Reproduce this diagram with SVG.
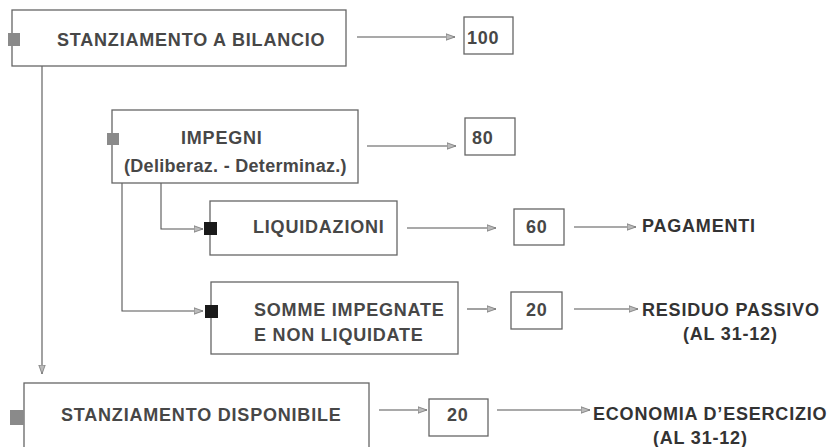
<svg xmlns="http://www.w3.org/2000/svg" width="828" height="447" viewBox="0 0 828 447">
<defs>
<style>
.box{fill:#fff;stroke:#666;stroke-width:1.3}
.vbox{fill:#fff;stroke:#666;stroke-width:1.3}
.t{font-family:"Liberation Sans",Arial,sans-serif;font-weight:bold;font-size:18px;letter-spacing:0.8px;fill:#474747}
.r{fill:#333}
.c{fill:none;stroke:#555;stroke-width:1.1}
.ca{fill:none;stroke:#555;stroke-width:1.1;marker-end:url(#ah)}
.mg{fill:#8a8a8a}
.mk{fill:#1a1a1a}
</style>
<marker id="ah" markerWidth="10" markerHeight="8" refX="9" refY="4" orient="auto" markerUnits="userSpaceOnUse">
<path d="M0,0.8 L9,4 L0,7.2 Z" fill="#bbb" stroke="#777" stroke-width="0.8"/>
</marker>
</defs>
<rect width="828" height="447" fill="#fff"/>

<g id="connectors">
<path class="ca" d="M357,37 H455"/>
<path class="ca" d="M42,66 V374"/>
<path class="ca" d="M367,146 H456"/>
<path class="ca" d="M161,183 V229 H203"/>
<path class="ca" d="M122,183 V311 H203"/>
<path class="ca" d="M407,228 H496"/>
<path class="ca" d="M574,227 H636"/>
<path class="ca" d="M467,309 H496"/>
<path class="ca" d="M574,309 H638"/>
<path class="ca" d="M379,410 H427"/>
<path class="ca" d="M497,410 H590"/>
</g>

<g id="n-stanziamento-bilancio">
<rect class="box" x="12" y="10" width="334" height="56"/>
<rect class="mg" x="8" y="33" width="12" height="13"/>
<text class="t" x="57" y="46">STANZIAMENTO A BILANCIO</text>
</g>

<g id="n-100">
<rect class="vbox" x="464" y="17" width="49" height="37"/>
<text class="t" x="467" y="44">100</text>
</g>

<g id="n-impegni">
<rect class="box" x="112" y="110" width="246" height="73"/>
<rect class="mg" x="107" y="133" width="12" height="12"/>
<text class="t" x="181" y="144">IMPEGNI</text>
<text class="t" x="124" y="172" style="letter-spacing:0.3px">(Deliberaz. - Determinaz.)</text>
</g>

<g id="n-80">
<rect class="vbox" x="465" y="118" width="50" height="37"/>
<text class="t" x="472" y="144">80</text>
</g>

<g id="n-liquidazioni">
<rect class="box" x="210" y="201" width="187" height="54"/>
<rect class="mk" x="204" y="222" width="13" height="13"/>
<text class="t" x="253" y="233">LIQUIDAZIONI</text>
</g>

<g id="n-60">
<rect class="vbox" x="514" y="209" width="50" height="36"/>
<text class="t" x="526" y="233">60</text>
</g>

<g id="n-pagamenti">
<text class="t r" x="642" y="232">PAGAMENTI</text>
</g>

<g id="n-somme">
<rect class="box" x="211" y="282" width="247" height="72"/>
<rect class="mk" x="205" y="305" width="13" height="13"/>
<text class="t" x="254" y="316">SOMME IMPEGNATE</text>
<text class="t" x="254" y="341">E NON LIQUIDATE</text>
</g>

<g id="n-20a">
<rect class="vbox" x="511" y="292" width="51" height="37"/>
<text class="t" x="526" y="316">20</text>
</g>

<g id="n-residuo">
<text class="t r" x="642" y="316">RESIDUO PASSIVO</text>
<text class="t r" x="683" y="340">(AL 31-12)</text>
</g>

<g id="n-stanziamento-disponibile">
<rect class="box" x="24" y="383" width="345" height="70"/>
<rect class="mg" x="10" y="410" width="14" height="15"/>
<text class="t" x="61" y="421">STANZIAMENTO DISPONIBILE</text>
</g>

<g id="n-20b">
<rect class="vbox" x="429" y="399" width="59" height="37"/>
<text class="t" x="447" y="421">20</text>
</g>

<g id="n-economia">
<text class="t r" x="593" y="420">ECONOMIA D’ESERCIZIO</text>
<text class="t r" x="653" y="444">(AL 31-12)</text>
</g>
</svg>
